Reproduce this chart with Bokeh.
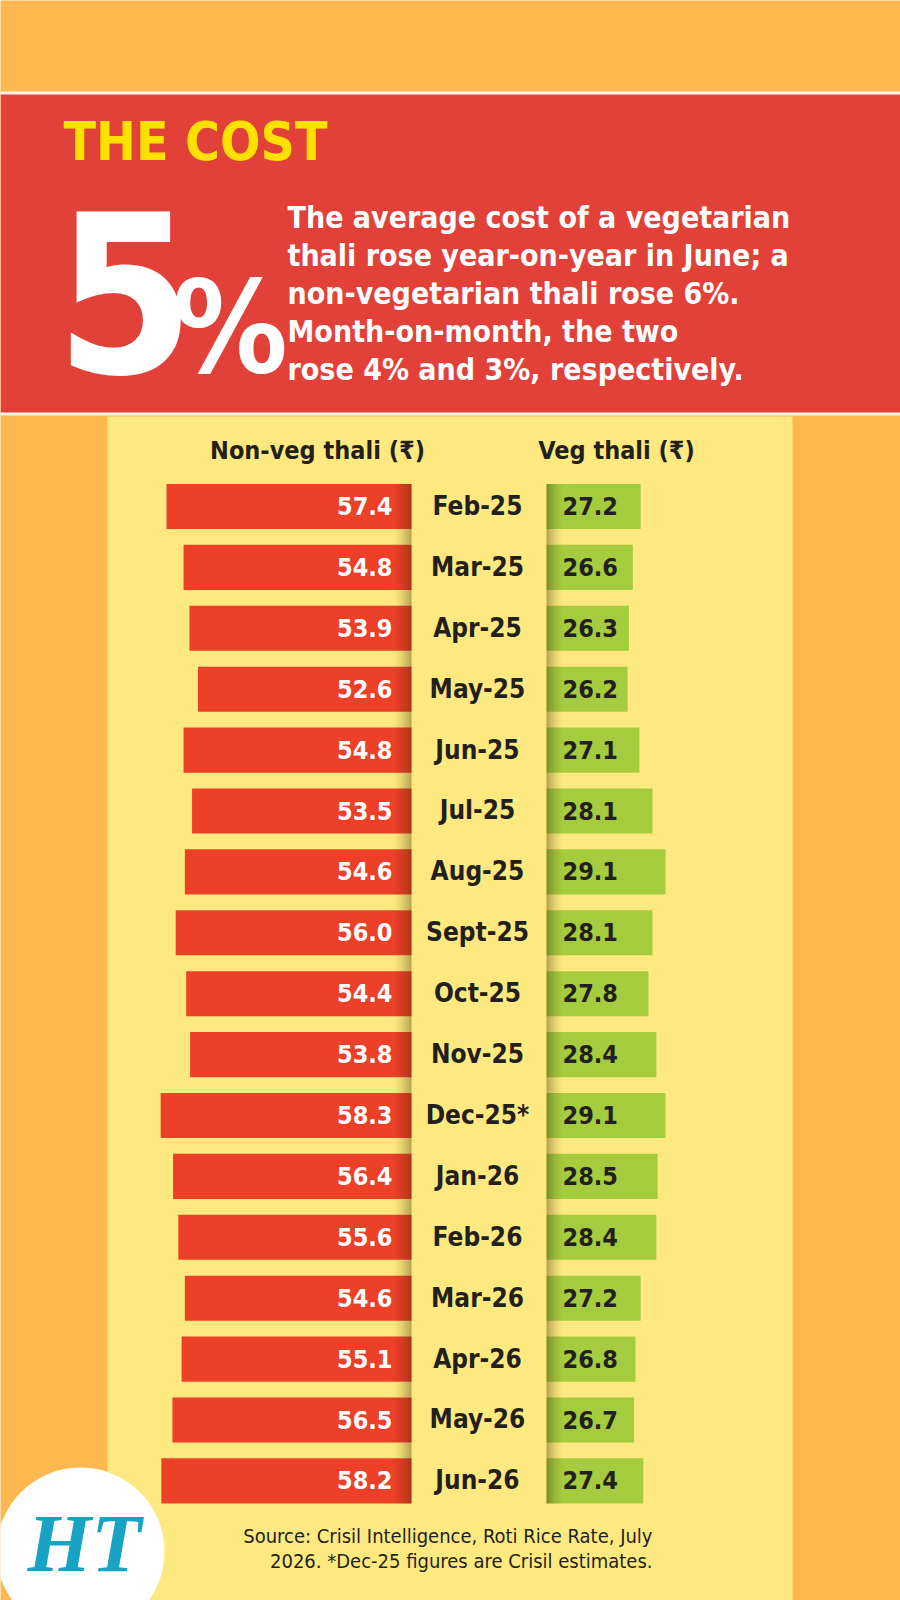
from bokeh.plotting import figure
from bokeh.models import Range1d, ColumnDataSource
from bokeh.core.properties import value
from bokeh.embed import file_html
from bokeh.resources import INLINE

# ---- data -------------------------------------------------------------
months = ["Feb-25", "Mar-25", "Apr-25", "May-25", "Jun-25", "Jul-25", "Aug-25",
          "Sept-25", "Oct-25", "Nov-25", "Dec-25*", "Jan-26", "Feb-26", "Mar-26",
          "Apr-26", "May-26", "Jun-26"]
nonveg_cost = [57.4, 54.8, 53.9, 52.6, 54.8, 53.5, 54.6, 56.0, 54.4, 53.8, 58.3,
               56.4, 55.6, 54.6, 55.1, 56.5, 58.2]
veg_cost = [27.2, 26.6, 26.3, 26.2, 27.1, 28.1, 29.1, 28.1, 27.8, 28.4, 29.1,
            28.5, 28.4, 27.2, 26.8, 26.7, 27.4]

title = "THE COST"
headline = "5"
headline_unit = "%"
blurb = ["The average cost of a vegetarian",
         "thali rose year-on-year in June; a",
         "non-vegetarian thali rose 6%.",
         "Month-on-month, the two",
         "rose 4% and 3%, respectively."]
source_lines = ["Source: Crisil Intelligence, Roti Rice Rate, July",
                "2026. *Dec-25 figures are Crisil estimates."]

# ---- styling ----------------------------------------------------------
W, H = 900, 1600
ORANGE = "#FDB94F"
RED_BAND = "#E24139"
PANEL = "#FEE981"
BAR_RED = "#EC4029"
BAR_GREEN = "#A5CB3F"
INK = "#231F1C"
FONT = value("'Liberation Sans Narrow', 'DejaVu Sans Condensed', 'Liberation Sans', sans-serif")
SERIF = value("'Liberation Serif', 'DejaVu Serif', serif")

# SVG text lands about 0.38em below the requested alphabetic baseline; lift it.
def lift(px):
    return -0.38 * px

AXIS_START = 20          # both bar scales start at Rs 20
NV_BASE_X, NV_PX = 411, 6.55     # non-veg bars grow leftwards from here
VEG_BASE_X, VEG_PX = 546, 13.08  # veg bars grow rightwards from here
ROW0, ROW_STEP = 506, 60.9
BAR_H = 0.74

p = figure(width=W, height=H, output_backend="svg", toolbar_location=None,
           x_range=Range1d(0, W), y_range=Range1d(H, 0),
           x_axis_location=None, y_axis_location=None,
           min_border=0, outline_line_color=None,
           background_fill_color=ORANGE, border_fill_color=ORANGE)
p.grid.visible = False

p.extra_x_ranges = {
    "nonveg": Range1d(AXIS_START + NV_BASE_X / NV_PX,
                      AXIS_START - (W - NV_BASE_X) / NV_PX),
    "veg": Range1d(AXIS_START - VEG_BASE_X / VEG_PX,
                   AXIS_START + (W - VEG_BASE_X) / VEG_PX),
}
p.extra_y_ranges = {"rows": Range1d((H - ROW0) / ROW_STEP, -ROW0 / ROW_STEP)}


def label(x, y, text, size, color, align="left", style="bold", font=FONT, dy=0, **kw):
    p.text(x=x, y=y, text=text, text_font=font, text_font_style=style,
           text_font_size=f"{size}px", text_color=color, text_align=align,
           text_baseline="alphabetic", y_offset=lift(size) + dy, **kw)


# ---- header band ------------------------------------------------------
p.quad(left=[0], right=[W], top=[91], bottom=[415], fill_color="#FFF3E6", line_color=None)
p.quad(left=[0], right=[W], top=[94], bottom=[412], fill_color=RED_BAND, line_color=None)
p.quad(left=[107], right=[792], top=[416], bottom=[H], fill_color=PANEL, line_color=None)

label([63], [161], [title], 53, "#FFE100")
label([55], [376], [headline], 222, "white")
label([172], [376], [headline_unit], 128, "white")
label([287] * len(blurb), [228 + 38 * i for i in range(len(blurb))], blurb, 30, "white")

# ---- column headers ---------------------------------------------------
label([317, 616], [459, 459], ["Non-veg thali (₹)", "Veg thali (₹)"], 25, INK, align="center")

# ---- bars -------------------------------------------------------------
rows = list(range(len(months)))
src = ColumnDataSource(dict(row=rows, month=months, nonveg=nonveg_cost, veg=veg_cost,
                            nv_txt=[f"{v:.1f}" for v in nonveg_cost],
                            veg_txt=[f"{v:.1f}" for v in veg_cost]))

p.hbar(y="row", left=AXIS_START, right="nonveg", height=BAR_H, source=src,
       fill_color=BAR_RED, line_color=None,
       x_range_name="nonveg", y_range_name="rows")
p.hbar(y="row", left=AXIS_START, right="veg", height=BAR_H, source=src,
       fill_color=BAR_GREEN, line_color=None,
       x_range_name="veg", y_range_name="rows")

# soft fold shadow along both sides of the month column
n_steps = 14
top_edge = rows[0] - BAR_H / 2
bottom_edge = rows[-1] + BAR_H / 2
for k in range(n_steps):
    a = 0.36 * (1 - k / n_steps) ** 1.6
    w_nv = 2.9 / n_steps
    p.quad(left=[AXIS_START + k * w_nv], right=[AXIS_START + (k + 1) * w_nv],
           top=[top_edge], bottom=[bottom_edge], fill_color="#3A2800",
           fill_alpha=a, line_color=None, x_range_name="nonveg", y_range_name="rows")
    w_v = 1.3 / n_steps
    p.quad(left=[AXIS_START + k * w_v], right=[AXIS_START + (k + 1) * w_v],
           top=[top_edge], bottom=[bottom_edge], fill_color="#3A2800",
           fill_alpha=a, line_color=None, x_range_name="veg", y_range_name="rows")

# value labels and months (baseline sits half a cap height below the row centre)
ROW_TXT = 26
VAL_TXT = 25
label(AXIS_START, "row", "nv_txt", VAL_TXT, "white", align="right", dy=0.36 * VAL_TXT,
      source=src, x_offset=-19, x_range_name="nonveg", y_range_name="rows")
label(AXIS_START, "row", "veg_txt", VAL_TXT, INK, align="left", dy=0.36 * VAL_TXT,
      source=src, x_offset=16, x_range_name="veg", y_range_name="rows")
label(477, "row", "month", ROW_TXT, INK, align="center", dy=0.36 * ROW_TXT,
      source=src, y_range_name="rows")

# ---- footer -----------------------------------------------------------
label([652, 652], [1543, 1568], source_lines, 20, INK, align="right", style="normal")

# HT masthead badge
p.ellipse(x=[80], y=[1551], width=[168], height=[168], fill_color="white", line_color=None)
label([84], [1574], ["HT"], 82, "#18A3C4", align="center", style="bold italic", font=SERIF)

open("out.html", "w").write(file_html(p, INLINE))
